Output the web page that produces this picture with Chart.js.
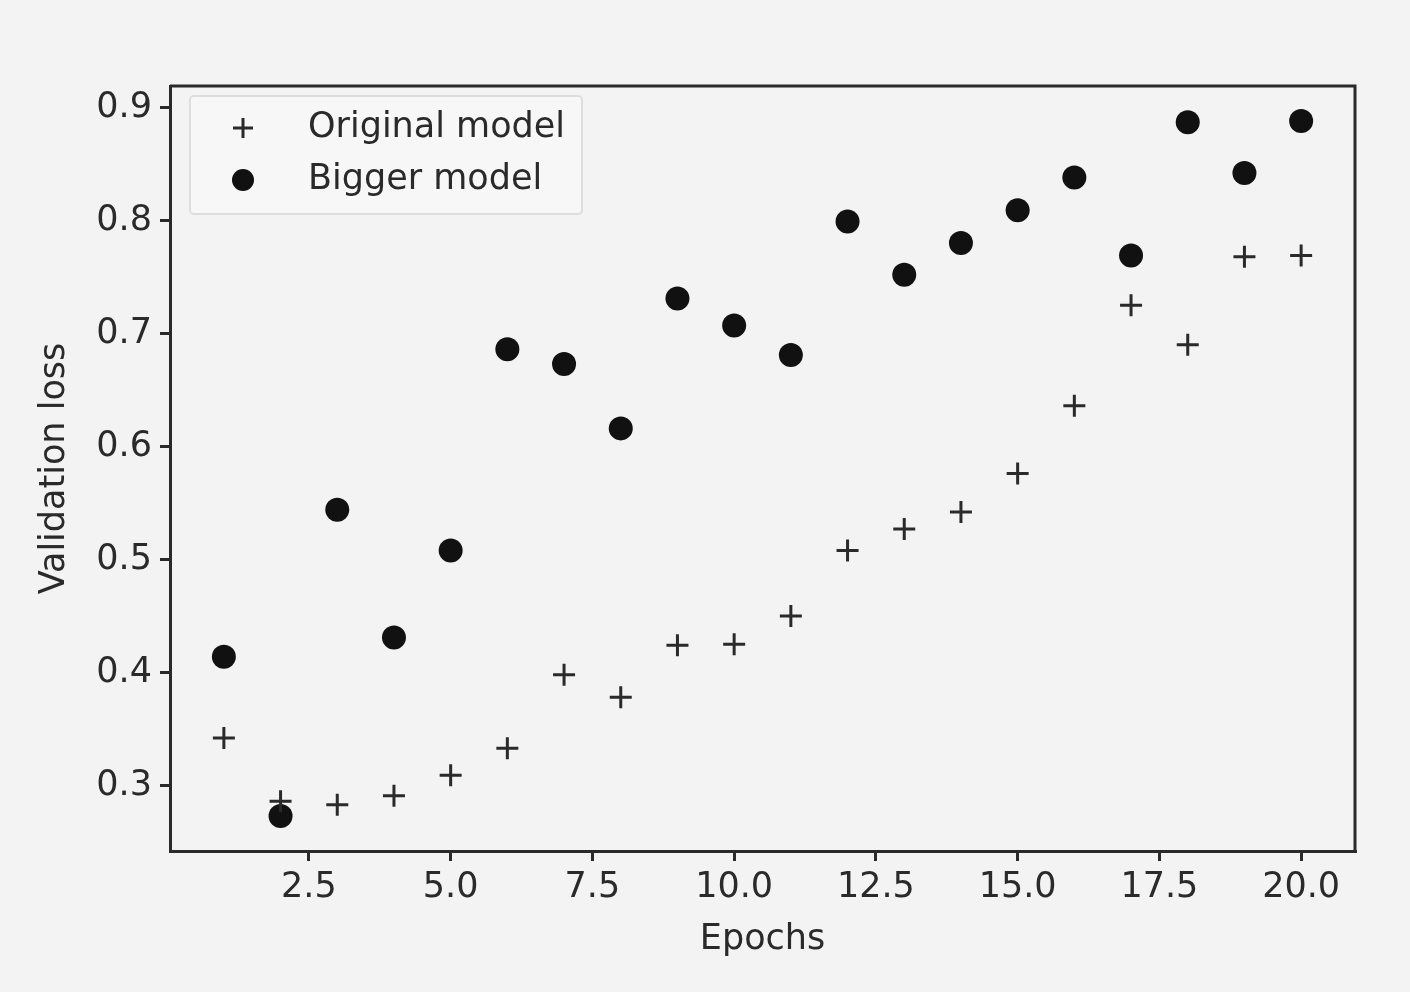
<!DOCTYPE html>
<html>
<head>
<meta charset="utf-8">
<script src="https://cdn.jsdelivr.net/npm/chart.js@4/dist/chart.umd.min.js"></script>
<style>
  html, body { margin: 0; padding: 0; background: #f3f3f3; }
  #wrap { width: 1410px; height: 992px; }
</style>
</head>
<body>
<div id="wrap"><canvas id="lossChart" width="1410" height="992"></canvas></div>
<script>
// epochs 1..20 and validation loss
const epochs = [1, 2, 3, 4, 5, 6, 7, 8, 9, 10, 11, 12, 13, 14, 15, 16, 17, 18, 19, 20];
const originalLoss = [0.342, 0.286, 0.283, 0.291, 0.309, 0.333, 0.398, 0.378, 0.424, 0.425,
                      0.450, 0.508, 0.527, 0.542, 0.576, 0.636, 0.725, 0.690, 0.768, 0.769];
const biggerLoss = [0.414, 0.273, 0.544, 0.431, 0.508, 0.686, 0.673, 0.616, 0.731, 0.707,
                    0.681, 0.799, 0.752, 0.780, 0.809, 0.838, 0.769, 0.887, 0.842, 0.888];
const seriesNames = ["Original model", "Bigger model"];

const font = "'DejaVu Sans', sans-serif";
const ink = "#2a2a2a";
const fontSize = 35;

// legend box drawn inside the plot, like matplotlib's upper-left legend
const insideLegend = {
    id: "insideLegend",
    afterDraw(chart) {
        const { ctx, chartArea } = chart;
        const x = chartArea.left + 20, y = chartArea.top + 10;
        ctx.save();
        ctx.fillStyle = "rgba(248,248,248,0.8)";
        ctx.strokeStyle = "#ddd";
        ctx.lineWidth = 2;
        ctx.beginPath();
        ctx.roundRect(x, y, 392, 118, 4);
        ctx.fill();
        ctx.stroke();
        ctx.font = fontSize + "px " + font;
        ctx.fillStyle = ink;
        ctx.textBaseline = "middle";
        chart.data.datasets.forEach((ds, i) => {
            const cy = y + 32 + i * 52;
            const mx = x + 53;
            if (ds.pointStyle === "cross") {
                ctx.strokeStyle = ds.borderColor;
                ctx.lineWidth = 3;
                ctx.beginPath();
                ctx.moveTo(mx - 10, cy); ctx.lineTo(mx + 10, cy);
                ctx.moveTo(mx, cy - 10); ctx.lineTo(mx, cy + 10);
                ctx.stroke();
            } else {
                ctx.fillStyle = ds.backgroundColor;
                ctx.beginPath();
                ctx.arc(mx, cy, 11, 0, Math.PI * 2);
                ctx.fill();
                ctx.fillStyle = ink;
            }
            ctx.fillText(ds.label, x + 118, cy);
        });
        ctx.restore();
    }
};

// top and right spines
const frame = {
    id: "frame",
    afterDraw(chart) {
        const { ctx, chartArea } = chart;
        ctx.save();
        ctx.strokeStyle = ink;
        ctx.lineWidth = 3;
        ctx.beginPath();
        ctx.moveTo(chartArea.left, chartArea.top);
        ctx.lineTo(chartArea.right, chartArea.top);
        ctx.lineTo(chartArea.right, chartArea.bottom);
        ctx.stroke();
        ctx.restore();
    }
};

new Chart(document.querySelector("#lossChart"), {
    type: "scatter",
    data: {
        datasets: [
            {
                label: seriesNames[0],
                data: epochs.map((e, i) => ({ x: e, y: originalLoss[i] })),
                pointStyle: "cross",
                pointRadius: 11,
                borderWidth: 3,
                borderColor: "#2a2a2a",
                backgroundColor: "#2a2a2a"
            },
            {
                label: seriesNames[1],
                data: epochs.map((e, i) => ({ x: e, y: biggerLoss[i] })),
                pointStyle: "circle",
                pointRadius: 12,
                borderWidth: 0,
                borderColor: "#111",
                backgroundColor: "#111"
            }
        ]
    },
    options: {
        responsive: false,
        animation: false,
        layout: { padding: { top: 86, right: 55, bottom: 31, left: 34 } },
        plugins: {
            legend: { display: false },
            tooltip: { enabled: false }
        },
        scales: {
            x: {
                type: "linear",
                min: 0.05,
                max: 20.95,
                afterFit(axis) { axis.height = 110; },
                border: { display: true, color: ink, width: 3 },
                grid: { drawOnChartArea: false, drawTicks: true, tickLength: 10, color: ink, lineWidth: 3 },
                ticks: {
                    stepSize: 2.5,
                    includeBounds: false,
                    color: ink,
                    padding: 6,
                    font: { family: font, size: fontSize },
                    callback: v => v.toFixed(1)
                },
                title: { display: true, text: "Epochs", color: ink, font: { family: font, size: fontSize }, padding: { top: 4, bottom: 0 } }
            },
            y: {
                min: 0.242,
                max: 0.919,
                afterFit(axis) { axis.width = 136; },
                border: { display: true, color: ink, width: 3 },
                grid: { drawOnChartArea: false, drawTicks: true, tickLength: 10, color: ink, lineWidth: 3 },
                ticks: {
                    stepSize: 0.1,
                    includeBounds: false,
                    color: ink,
                    padding: 8,
                    font: { family: font, size: fontSize },
                    callback: v => v.toFixed(1)
                },
                title: { display: true, text: "Validation loss", color: ink, font: { family: font, size: fontSize }, padding: { top: 0, bottom: 4 } }
            }
        }
    },
    plugins: [insideLegend, frame]
});
</script>
</body>
</html>
